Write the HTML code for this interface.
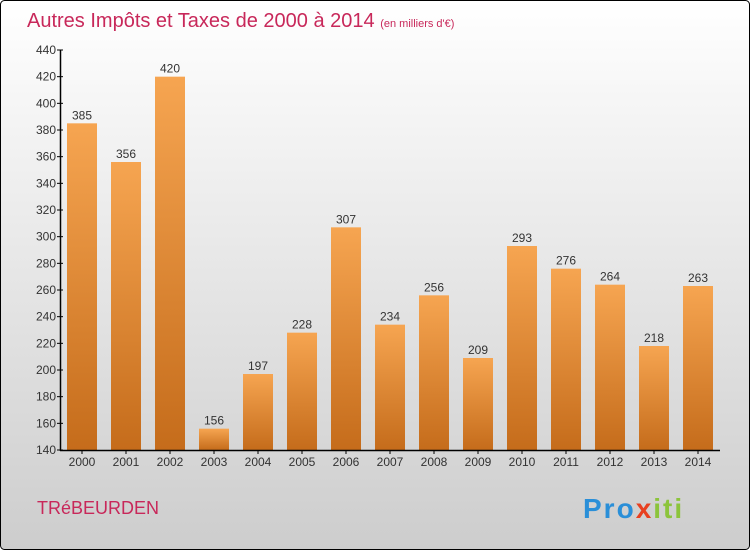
<!DOCTYPE html>
<html><head><meta charset="utf-8"><style>
body{margin:0;width:750px;height:550px;overflow:hidden;font-family:"Liberation Sans",sans-serif}
</style></head><body>
<svg width="750" height="550" xmlns="http://www.w3.org/2000/svg">
<defs>
<linearGradient id="bg" x1="0" y1="0" x2="0" y2="1"><stop offset="0" stop-color="#ffffff"/><stop offset="1" stop-color="#cdcdcd"/></linearGradient>
<linearGradient id="bar" x1="0" y1="0" x2="0" y2="1"><stop offset="0" stop-color="#f6a551"/><stop offset="1" stop-color="#c56c1b"/></linearGradient>
</defs>
<rect x="0.5" y="0.5" width="749" height="549" rx="4" fill="url(#bg)" stroke="#000"/>
<text x="27" y="27" font-size="20" fill="#c8285a">Autres Impôts et Taxes de 2000 à 2014 <tspan font-size="11">(en milliers d'€)</tspan></text>
<text x="37" y="514" font-size="18" fill="#c8285a">TRéBEURDEN</text>
<text x="583" y="518" font-size="28" font-weight="bold" letter-spacing="2"><tspan fill="#2a8fd8">Pro</tspan><tspan fill="#e84020">x</tspan><tspan fill="#8cc43c">iti</tspan></text>
<g id="plot"></g>
</svg>
<script>
const categories=["2000","2001","2002","2003","2004","2005","2006","2007","2008","2009","2010","2011","2012","2013","2014"];
const values=[385,356,420,156,197,228,307,234,256,209,293,276,264,218,263];
const ticks=[140,160,180,200,220,240,260,280,300,320,340,360,380,400,420,440];
const NS="http://www.w3.org/2000/svg";
const g=document.getElementById('plot');
const y=v=>450-(v-140)*400/300;
const x=i=>82+i*44;
function mk(t,a){const e=document.createElementNS(NS,t);for(const k in a)e.setAttribute(k,a[k]);g.appendChild(e);return e;}
ticks.forEach(t=>{
 const l=mk('line',{x1:57,x2:63,y1:y(t),y2:y(t),stroke:'#000'});
 
 
 const tx=mk('text',{x:56,y:y(t)+4,'text-anchor':'end','font-size':12,fill:'#333'});
 tx.textContent=t;
 
 
});
values.forEach((v,i)=>{
 const r=mk('rect',{x:x(i)-15,y:y(v),width:30,height:450-y(v),fill:'url(#bar)'});
 
 
 const tv=mk('text',{x:x(i),y:y(v)-4,'text-anchor':'middle','font-size':12,fill:'#333'});
 tv.textContent=v;
 
 
 const tk=mk('line',{x1:x(i),x2:x(i),y1:450,y2:454,stroke:'#000'});
 
 
 const tc=mk('text',{x:x(i),y:466,'text-anchor':'middle','font-size':12,fill:'#333'});
 tc.textContent=categories[i];
 
 
});
const ya=mk('line',{x1:60.5,x2:60.5,y1:50,y2:451,stroke:'#000','stroke-width':1.5});


const xa=mk('line',{x1:60,x2:720,y1:450.5,y2:450.5,stroke:'#000','stroke-width':1.5});


</script>
</body></html>
